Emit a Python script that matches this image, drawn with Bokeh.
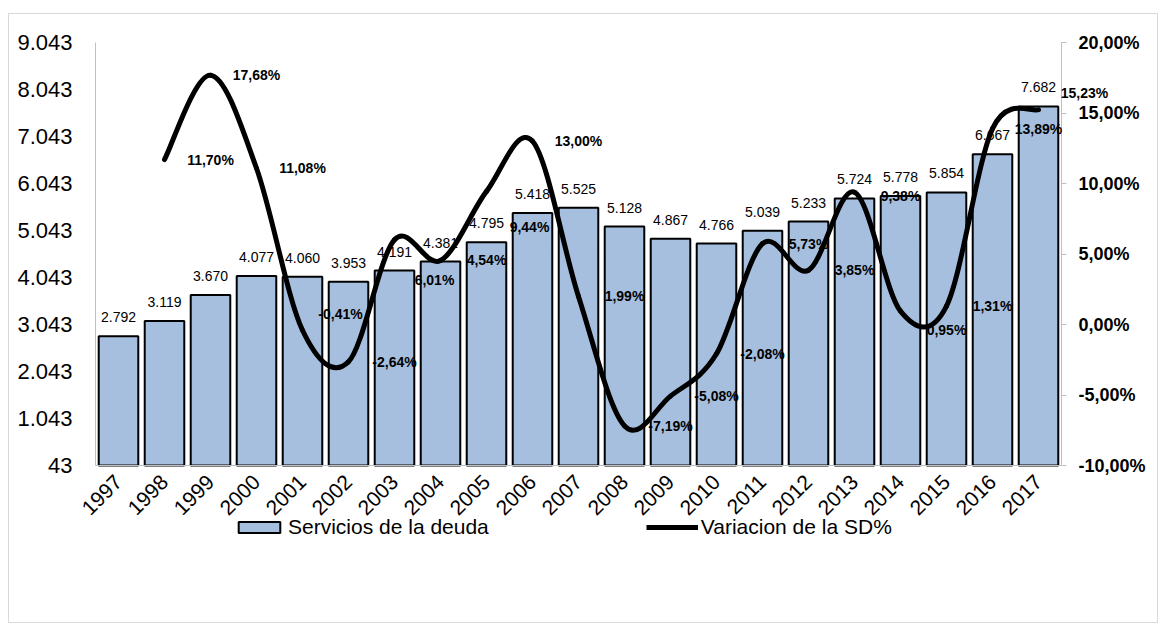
import math
import numpy as np
from bokeh.plotting import figure
from bokeh.models import (Range1d, LinearAxis, FixedTicker, ColumnDataSource,
                          LabelSet, Legend, LegendItem)
from bokeh.core.properties import value
from bokeh.embed import file_html
from bokeh.resources import INLINE

# ---------------- data ----------------
years = [1997, 1998, 1999, 2000, 2001, 2002, 2003, 2004, 2005, 2006, 2007,
         2008, 2009, 2010, 2011, 2012, 2013, 2014, 2015, 2016, 2017]
servicios = [2792, 3119, 3670, 4077, 4060, 3953, 4191, 4381, 4795, 5418, 5525,
             5128, 4867, 4766, 5039, 5233, 5724, 5778, 5854, 6667, 7682]
var_years = [1998, 1999, 2000, 2001, 2002, 2003, 2004, 2005, 2006, 2007,
             2008, 2009, 2010, 2011, 2012, 2013, 2014, 2015, 2016, 2017]
variacion = [11.70, 17.68, 11.08, -0.41, -2.64, 6.01, 4.54, 9.44, 13.00, 1.99,
             -7.19, -5.08, -2.08, 5.73, 3.85, 9.38, 0.95, 1.31, 13.89, 15.23]
left_ticks = [43, 1043, 2043, 3043, 4043, 5043, 6043, 7043, 8043, 9043]
left_tick_labels = ["43", "1.043", "2.043", "3.043", "4.043", "5.043",
                    "6.043", "7.043", "8.043", "9.043"]
right_ticks = [-10, -5, 0, 5, 10, 15, 20]
right_tick_labels = ["-10,00%", "-5,00%", "0,00%", "5,00%", "10,00%",
                     "15,00%", "20,00%"]
legend_labels = ["Servicios de la deuda", "Variacion de la SD%"]

# ---------------- styling / layout constants ----------------
# label nudges (screen px, positive = down / right)
pct_dy = [0, 0, 0, -16, 0, 40, 0, 36, 0, 0, 0, 0, 0, 0, 0, 4, 19, 0, 0, -17]
pct_dx = [0, 0, 0, -8, 0, -6, 0, -3, 0, 0, 0, 0, 0, 0, 0, 0, 0, 0, 0, 0]

FONT = "Liberation Sans"
BAR_COLOR = "#A7BFDE"
AXIS_GRAY = "#BFBFBF"

FIG_W, FIG_H = 1150, 610
L_MIN, L_MAX = 43, 9043          # left axis extent
R_MIN, R_MAX = -10, 20           # right axis extent
X_MIN, X_MAX = 1996.5, 2017.5    # category axis extent
AXIS_PX_H = 423                  # pixel height of the value axes
AXIS_PX_W = 966                  # pixel width of the category axis
PAD_LEFT, PAD_TOP = 86, 28       # px from canvas edge to the axes
PAD_RIGHT = FIG_W - PAD_LEFT - AXIS_PX_W
PAD_BOTTOM = FIG_H - PAD_TOP - AXIS_PX_H

ly = (L_MAX - L_MIN) / AXIS_PX_H
ry = (R_MAX - R_MIN) / AXIS_PX_H
xu = (X_MAX - X_MIN) / AXIS_PX_W

# the plot frame fills the whole canvas; axes are placed at fixed locations
p = figure(width=FIG_W, height=FIG_H,
           x_range=Range1d(X_MIN - PAD_LEFT * xu, X_MAX + PAD_RIGHT * xu),
           y_range=Range1d(L_MIN - PAD_BOTTOM * ly, L_MAX + PAD_TOP * ly),
           x_axis_location=None, y_axis_location=None,
           output_backend="svg", toolbar_location=None,
           min_border=0)
p.extra_y_ranges = {"pct": Range1d(R_MIN - PAD_BOTTOM * ry, R_MAX + PAD_TOP * ry)}
p.grid.visible = False
p.outline_line_color = None
p.styles = {"border": "1px solid #D9D9D9", "margin": "13px 0px 0px 8px"}

# bars
bar_src = ColumnDataSource(dict(
    x=years, top=servicios,
    lbl=[f"{v:,}".replace(",", ".") for v in servicios]))
bars = p.vbar(x="x", top="top", bottom=L_MIN, width=0.86, source=bar_src,
              fill_color=BAR_COLOR, line_color="black", line_width=2)

p.add_layout(LabelSet(x="x", y="top", text="lbl", source=bar_src,
                      text_align="center", text_baseline="alphabetic",
                      y_offset=14, text_font=value(FONT),
                      text_font_size=value("14px"),
                      text_color=value("black")))

# smooth line (Excel-like smoothing via cubic Bezier segments)
xs = np.array(var_years, dtype=float)
ys = np.array(variacion, dtype=float)
n = len(xs)
x0, y0, x1, y1, cx0, cy0, cx1, cy1 = [], [], [], [], [], [], [], []
for i in range(n - 1):
    prv = max(i - 1, 0)
    nxt = min(i + 2, n - 1)
    x0.append(xs[i]); y0.append(ys[i])
    x1.append(xs[i + 1]); y1.append(ys[i + 1])
    cx0.append(xs[i] + (xs[i + 1] - xs[prv]) / 6.0)
    cy0.append(ys[i] + (ys[i + 1] - ys[prv]) / 6.0)
    cx1.append(xs[i + 1] - (xs[nxt] - xs[i]) / 6.0)
    cy1.append(ys[i + 1] - (ys[nxt] - ys[i]) / 6.0)
p.bezier(x0=x0, y0=y0, x1=x1, y1=y1, cx0=cx0, cy0=cy0, cx1=cx1, cy1=cy1,
         line_color="black", line_width=5, line_cap="round",
         y_range_name="pct")
# renderer used only for the legend swatch (draws nothing)
legend_line = p.line(x=np.array([np.nan]), y=np.array([np.nan]),
                     line_color="black", line_width=5, y_range_name="pct")

pct_src = ColumnDataSource(dict(
    x=[y + 1 for y in var_years], y=variacion,
    lbl=[f"{v:.2f}%".replace(".", ",") for v in variacion],
    dx=pct_dx, dy=[-d for d in pct_dy]))
p.add_layout(LabelSet(x="x", y="y", text="lbl", source=pct_src,
                      x_offset="dx", y_offset="dy", y_range_name="pct",
                      text_align="center", text_baseline="middle",
                      text_font=value(FONT), text_font_size=value("14px"),
                      text_font_style=value("bold"),
                      text_color=value("black")))

# category axis, fixed at the base of the bars
xa = LinearAxis(fixed_location=L_MIN, bounds=(X_MIN, X_MAX))
xa.ticker = FixedTicker(ticks=years)
xa.major_label_orientation = math.pi / 4
xa.axis_line_color = AXIS_GRAY
xa.major_tick_line_color = None
xa.minor_tick_line_color = None
xa.major_tick_out = 0
xa.major_tick_in = 0
xa.major_label_standoff = 13
xa.major_label_text_font = FONT
xa.major_label_text_font_size = "21px"
xa.major_label_text_color = "black"
p.add_layout(xa, "below")

ya = LinearAxis(fixed_location=X_MIN, bounds=(L_MIN, L_MAX))
ya.ticker = FixedTicker(ticks=left_ticks)
ya.major_label_overrides = dict(zip(left_ticks, left_tick_labels))
ya.axis_line_color = AXIS_GRAY
ya.major_tick_line_color = None
ya.minor_tick_line_color = None
ya.major_tick_out = 0
ya.major_tick_in = 0
ya.major_label_standoff = 23
ya.major_label_text_font = FONT
ya.major_label_text_font_size = "22px"
ya.major_label_text_color = "black"
p.add_layout(ya, "left")

ra = LinearAxis(y_range_name="pct", bounds=(R_MIN, R_MAX), fixed_location=X_MAX)
ra.ticker = FixedTicker(ticks=right_ticks)
ra.major_label_overrides = dict(zip(right_ticks, right_tick_labels))
ra.axis_line_color = AXIS_GRAY
ra.major_tick_line_color = AXIS_GRAY
ra.major_tick_out = 5
ra.major_tick_in = 0
ra.minor_tick_line_color = None
ra.major_label_standoff = 12
ra.major_label_text_font = FONT
ra.major_label_text_font_size = "18px"
ra.major_label_text_font_style = "bold"
ra.major_label_text_color = "black"
p.add_layout(ra, "right")

legend = Legend(items=[LegendItem(label=legend_labels[0], renderers=[bars]),
                       LegendItem(label=legend_labels[1], renderers=[legend_line])],
                orientation="horizontal", location=(PAD_LEFT + 138, PAD_BOTTOM - 74),
                glyph_width=52, glyph_height=14, label_standoff=3,
                spacing=157, padding=0, margin=0,
                border_line_color=None, background_fill_alpha=0,
                label_text_font=FONT, label_text_font_size="21px",
                label_text_color="black")
p.add_layout(legend, "center")

open("out.html", "w").write(file_html(p, INLINE))
